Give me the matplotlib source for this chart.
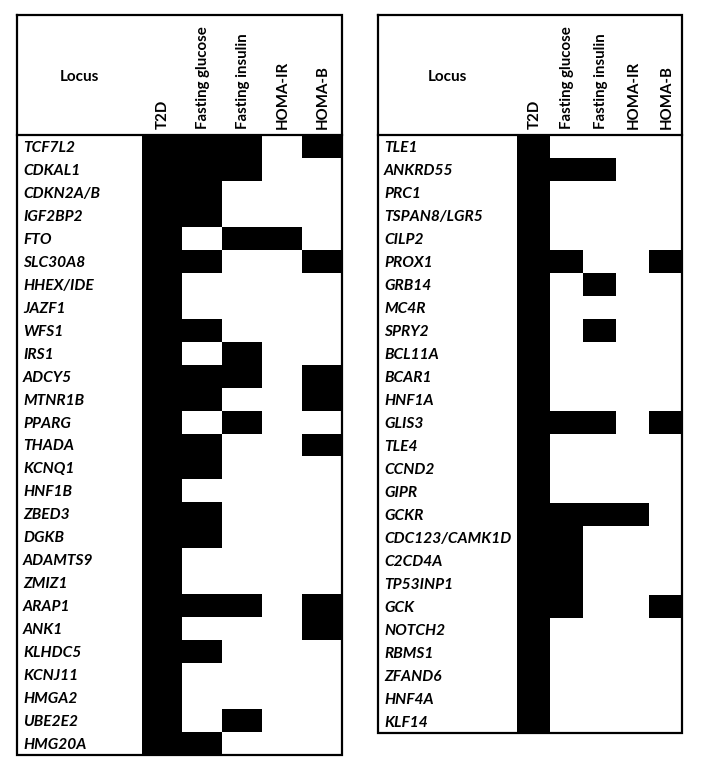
import matplotlib
matplotlib.use("Agg")
import matplotlib.pyplot as plt
import numpy as np
from matplotlib.colors import ListedColormap

traits = ["T2D", "Fasting glucose", "Fasting insulin", "HOMA-IR", "HOMA-B"]

left_loci = ["TCF7L2", "CDKAL1", "CDKN2A/B", "IGF2BP2", "FTO", "SLC30A8", "HHEX/IDE",
             "JAZF1", "WFS1", "IRS1", "ADCY5", "MTNR1B", "PPARG", "THADA", "KCNQ1",
             "HNF1B", "ZBED3", "DGKB", "ADAMTS9", "ZMIZ1", "ARAP1", "ANK1", "KLHDC5",
             "KCNJ11", "HMGA2", "UBE2E2", "HMG20A"]
left_values = [
    [1, 1, 1, 0, 1],  # TCF7L2
    [1, 1, 1, 0, 0],  # CDKAL1
    [1, 1, 0, 0, 0],  # CDKN2A/B
    [1, 1, 0, 0, 0],  # IGF2BP2
    [1, 0, 1, 1, 0],  # FTO
    [1, 1, 0, 0, 1],  # SLC30A8
    [1, 0, 0, 0, 0],  # HHEX/IDE
    [1, 0, 0, 0, 0],  # JAZF1
    [1, 1, 0, 0, 0],  # WFS1
    [1, 0, 1, 0, 0],  # IRS1
    [1, 1, 1, 0, 1],  # ADCY5
    [1, 1, 0, 0, 1],  # MTNR1B
    [1, 0, 1, 0, 0],  # PPARG
    [1, 1, 0, 0, 1],  # THADA
    [1, 1, 0, 0, 0],  # KCNQ1
    [1, 0, 0, 0, 0],  # HNF1B
    [1, 1, 0, 0, 0],  # ZBED3
    [1, 1, 0, 0, 0],  # DGKB
    [1, 0, 0, 0, 0],  # ADAMTS9
    [1, 0, 0, 0, 0],  # ZMIZ1
    [1, 1, 1, 0, 1],  # ARAP1
    [1, 0, 0, 0, 1],  # ANK1
    [1, 1, 0, 0, 0],  # KLHDC5
    [1, 0, 0, 0, 0],  # KCNJ11
    [1, 0, 0, 0, 0],  # HMGA2
    [1, 0, 1, 0, 0],  # UBE2E2
    [1, 1, 0, 0, 0],  # HMG20A
]

right_loci = ["TLE1", "ANKRD55", "PRC1", "TSPAN8/LGR5", "CILP2", "PROX1", "GRB14", "MC4R",
              "SPRY2", "BCL11A", "BCAR1", "HNF1A", "GLIS3", "TLE4", "CCND2", "GIPR", "GCKR",
              "CDC123/CAMK1D", "C2CD4A", "TP53INP1", "GCK", "NOTCH2", "RBMS1", "ZFAND6",
              "HNF4A", "KLF14"]
right_values = [
    [1, 0, 0, 0, 0],  # TLE1
    [1, 1, 1, 0, 0],  # ANKRD55
    [1, 0, 0, 0, 0],  # PRC1
    [1, 0, 0, 0, 0],  # TSPAN8/LGR5
    [1, 0, 0, 0, 0],  # CILP2
    [1, 1, 0, 0, 1],  # PROX1
    [1, 0, 1, 0, 0],  # GRB14
    [1, 0, 0, 0, 0],  # MC4R
    [1, 0, 1, 0, 0],  # SPRY2
    [1, 0, 0, 0, 0],  # BCL11A
    [1, 0, 0, 0, 0],  # BCAR1
    [1, 0, 0, 0, 0],  # HNF1A
    [1, 1, 1, 0, 1],  # GLIS3
    [1, 0, 0, 0, 0],  # TLE4
    [1, 0, 0, 0, 0],  # CCND2
    [1, 0, 0, 0, 0],  # GIPR
    [1, 1, 1, 1, 0],  # GCKR
    [1, 1, 0, 0, 0],  # CDC123/CAMK1D
    [1, 1, 0, 0, 0],  # C2CD4A
    [1, 1, 0, 0, 0],  # TP53INP1
    [1, 1, 0, 0, 1],  # GCK
    [1, 0, 0, 0, 0],  # NOTCH2
    [1, 0, 0, 0, 0],  # RBMS1
    [1, 0, 0, 0, 0],  # ZFAND6
    [1, 0, 0, 0, 0],  # HNF4A
    [1, 0, 0, 0, 0],  # KLF14
]

W, H = 701, 773
fig = plt.figure(figsize=(W / 100, H / 100), dpi=100)
ax = fig.add_axes([0, 0, 1, 1])
ax.set_xlim(0, W)
ax.set_ylim(H, 0)
ax.axis("off")

FONT = "Lato"
cmap = ListedColormap(["white", "black"])


def draw_table(x0, locus_w, col_w, top, header_h, row_h, loci, values):
    n = len(loci)
    data_x0 = x0 + locus_w
    xedges = data_x0 + col_w * np.arange(len(traits) + 1)
    y0 = top + header_h
    yedges = y0 + row_h * np.arange(n + 1)
    ax.pcolormesh(xedges, yedges, np.array(values), cmap=cmap, vmin=0, vmax=1,
                  shading="flat", edgecolors="none", antialiased=False)
    x1 = xedges[-1]
    y1 = yedges[-1]
    ax.plot([x0, x1, x1, x0, x0], [top, top, y1, y1, top], color="black", lw=1.6,
            solid_joinstyle="miter", zorder=5)
    ax.plot([x0, x1], [y0, y0], color="black", lw=1.6, zorder=5)
    ax.text(x0 + locus_w / 2, top + 62, "Locus", ha="center", va="center",
            fontsize=11, fontweight="bold", family=FONT)
    for j, t in enumerate(traits):
        ax.text((xedges[j] + xedges[j + 1]) / 2 + 1, y0 - 6, t, rotation=90,
                ha="center", va="bottom", fontsize=10.8, fontweight="bold", family=FONT)
    for i, name in enumerate(loci):
        ax.text(x0 + 6, (yedges[i] + yedges[i + 1]) / 2 + 1.5, name, ha="left",
                va="center", fontsize=11.2, fontweight="bold", style="italic", family=FONT)


draw_table(17, 125, 40, 15, 120, 620 / 27, left_loci, left_values)
draw_table(378, 139, 33, 15, 120, 598 / 26, right_loci, right_values)

fig.savefig("out.png", dpi=100, facecolor="white")
